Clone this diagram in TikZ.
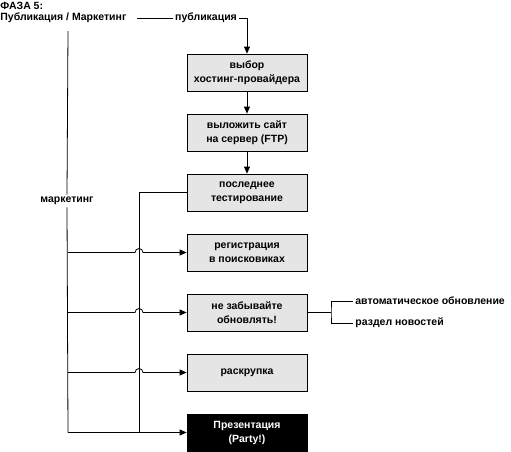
\documentclass[tikz,border=0pt]{standalone}
\usepackage{fontspec}
\setmainfont{Liberation Sans}
\usetikzlibrary{positioning,calc,arrows.meta}
\tikzset{>={Triangle[length=7pt,width=6pt]}}
\tikzset{
  stage/.style={draw,fill=black!10,minimum width=120pt,minimum height=37pt,
    align=center,inner sep=0pt,font=\bfseries\fontsize{10.5}{14}\selectfont},
  party/.style={stage,fill=black,text=white},
  lbl/.style={inner sep=2pt,font=\bfseries\fontsize{10.5}{12}\selectfont}
}

\begin{document}
\begin{tikzpicture}[x=1pt,y=-1pt,line width=0.8pt]
\useasboundingbox (0,0) rectangle (511,451);
% heading
\node[lbl,anchor=west,inner sep=0pt] (phase) at (0,5.5) {ФАЗА 5:};
\node[lbl,anchor=west,inner sep=0pt] (pm) at (0,18) {Публикация / Маркетинг};
% stages
\node[stage] (host) at (247,72.5) {выбор\\хостинг-провайдера};
\node[stage] (ftp) at (247,132.5) {выложить сайт\\на сервер (FTP)};
\node[stage] (test) at (247,192.5) {последнее\\тестирование};
\node[stage] (seo) at (247,252.5) {регистрация\\в поисковиках};
\node[stage] (upd) at (247,312.5) {не забывайте\\обновлять!};
\node[stage] (promo) at (247,372.5) {раскрупка};
\node[party] (party) at (247,432.5) {Презентация\\(Party!)};
% publication
\node[lbl,fill=white] (publ) at (206,18) {публикация};
\draw ($(pm.east)+(10,0)$) -- (publ.west);
\draw[->] (publ.east) -| (host.north);
\draw[->] (host) -- (ftp);
\draw[->] (ftp) -- (test);
% marketing
\coordinate (mtop) at (68,31);
\coordinate (tline) at (139,0);
\node[lbl,fill=white] (mkt) at (67,201) {маркетинг};
\draw (mtop) -- (mkt.north);
\draw (mkt.south) -- (party.west -| mtop);
\draw (test.west) -- (test.west -| tline) -- (party.west -| tline);
\foreach \s in {seo,upd,promo}
  \draw[->] (\s.west -| mtop) -- ($(\s.west -| tline)+(-4,0)$)
    arc[start angle=180,end angle=0,radius=4pt] -- (\s.west);
\draw[->] (party.west -| mtop) -- (party.west);
% updates
\coordinate (fork) at (331,312.5);
\node[lbl,anchor=west] (auto) at (353,301) {автоматическое обновление};
\node[lbl,anchor=west] (news) at (353,323) {раздел новостей};
\draw (upd.east) -- (fork);
\draw (auto.west) -| (fork) |- (news.west);
\end{tikzpicture}
\end{document}
